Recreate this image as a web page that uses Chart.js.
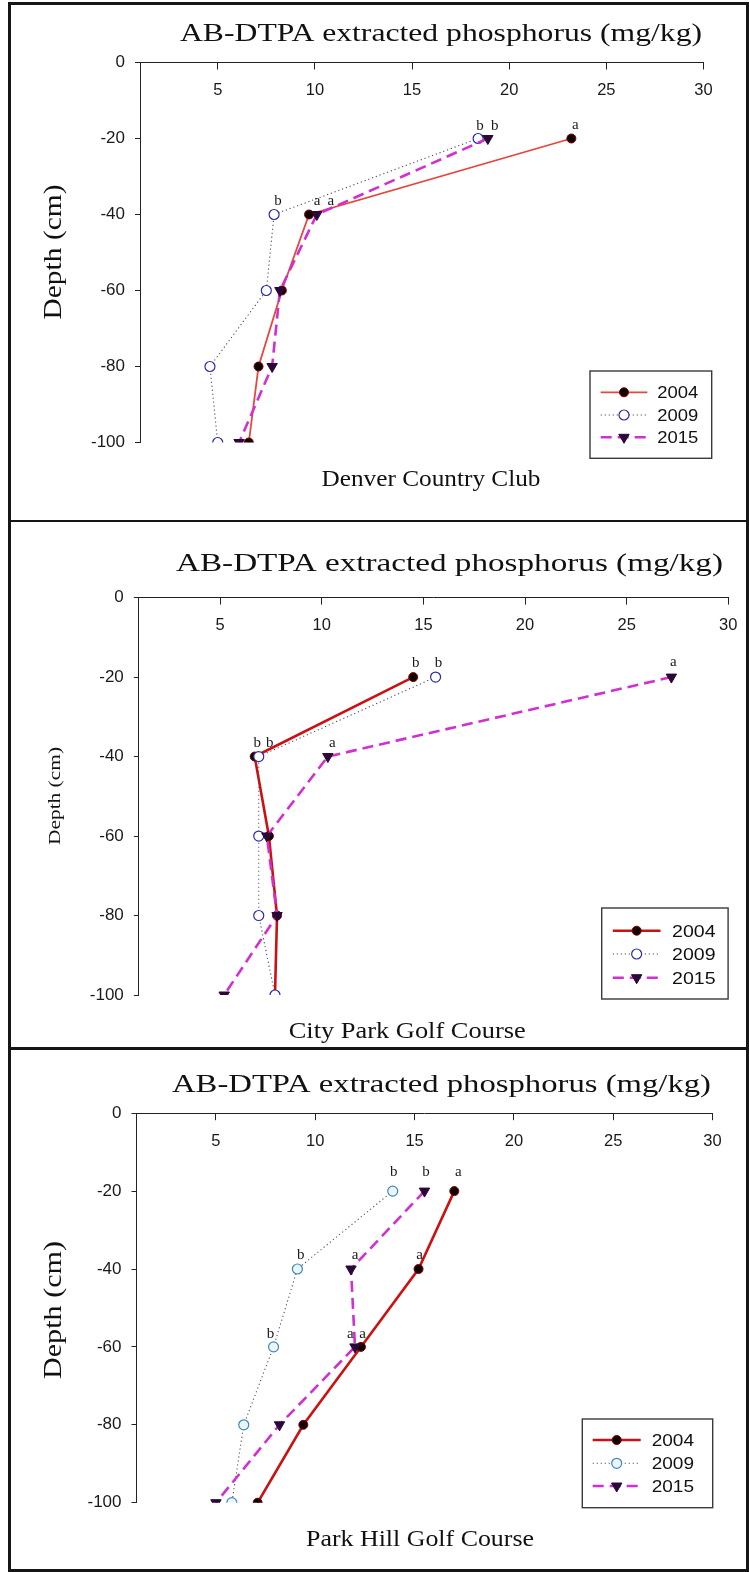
<!DOCTYPE html>
<html>
<head>
<meta charset="utf-8">
<script src="https://cdn.jsdelivr.net/npm/chart.js@4.4.1/dist/chart.umd.min.js"></script>
<style>
  html, body { margin: 0; padding: 0; background: #fff; }
  #page { position: relative; width: 749px; height: 1572px; overflow: hidden; background: #fff; }
  #page canvas { position: absolute; left: 0; }
  .rule { position: absolute; background: #161616; }
</style>
</head>
<body>
<div id="page">
  <canvas id="c1" width="749" height="520" style="top:0px"></canvas>
  <canvas id="c2" width="749" height="528" style="top:520px"></canvas>
  <canvas id="c3" width="749" height="524" style="top:1048px"></canvas>
  <div class="rule" style="left:8px;top:2px;width:2.5px;height:1568px"></div>
  <div class="rule" style="left:746px;top:2px;width:2.5px;height:1568px"></div>
  <div class="rule" style="left:8px;top:2px;width:741px;height:2.5px"></div>
  <div class="rule" style="left:8px;top:519.5px;width:741px;height:2.5px"></div>
  <div class="rule" style="left:8px;top:1047px;width:741px;height:2.5px"></div>
  <div class="rule" style="left:8px;top:1569px;width:741px;height:2.5px"></div>
</div>
<script>
// ---- data -------------------------------------------------------------
const depths = [-20, -40, -60, -80, -100];
const years = ['2004', '2009', '2015'];
const xTicks = [5, 10, 15, 20, 25, 30];
const yTicks = [0, -20, -40, -60, -80, -100];
const titleText = 'AB-DTPA extracted phosphorus (mg/kg)';
const yTitleText = 'Depth (cm)';
const siteNames = ['Denver Country Club', 'City Park Golf Course', 'Park Hill Golf Course'];

// Denver Country Club (mg/kg)
const dcc2004 = [23.2, 9.7, 8.3, 7.1, 6.6];
const dcc2009 = [18.4, 7.9, 7.5, 4.6, 5.0];
const dcc2015 = [18.9, 10.1, 8.2, 7.8, 6.1];
const dccSig2004 = ['a', 'a', '', '', ''];
const dccSig2009 = ['b', 'b', '', '', ''];
const dccSig2015 = ['b', 'a', '', '', ''];

// City Park Golf Course (mg/kg)
const cp2004 = [14.5, 6.7, 7.4, 7.8, 7.7];
const cp2009 = [15.6, 6.9, 6.9, 6.9, 7.7];
const cp2015 = [27.2, 10.3, 7.3, 7.8, 5.2];
const cpSig2004 = ['b', 'b', '', '', ''];
const cpSig2009 = ['b', 'b', '', '', ''];
const cpSig2015 = ['a', 'a', '', '', ''];

// Park Hill Golf Course (mg/kg)
const ph2004 = [17.0, 15.2, 12.3, 9.4, 7.1];
const ph2009 = [13.9, 9.1, 7.9, 6.4, 5.8];
const ph2015 = [15.5, 11.8, 12.0, 8.2, 5.0];
const phSig2004 = ['a', 'a', 'a', '', ''];
const phSig2009 = ['b', 'b', 'b', '', ''];
const phSig2015 = ['b', 'a', 'a', '', ''];

// ---- layout and styling (page coordinates) ------------------------------
const panelLayout = {
  c1: {
    top: 0, site: 0,
    area: { l: 140, t: 62.5, r: 703.5, b: 442.5 },
    title: { cx: 441, y: 40.7, w: 522, size: 26 },
    siteText: { cx: 431, y: 486, w: 219, size: 24 },
    yTitle: { x: 61, cy: 252, len: 135, size: 25 },
    legend: { x0: 590, x1: 711.7, y0: 371, y1: 458.3, rows: [392.3, 415, 437.3], l0: 600.7, l1: 647.3, tx: 657.3, tw: 41 },
    red: '#e6473d', redW: 1.8, ring: '#2b2ba6', ringFill: '#ffffff', dot: '#4a4a6e',
    shifts: [[[4, -10], [8, -10]], [[2, -9], [4, -10]], [[7, -9], [14, -10]]]
  },
  c2: {
    top: 520, site: 1,
    area: { l: 138.8, t: 597.6, r: 728.3, b: 995 },
    title: { cx: 449.5, y: 570.7, w: 547, size: 26 },
    siteText: { cx: 407.2, y: 1037.5, w: 237, size: 24 },
    yTitle: { x: 60, cy: 796, len: 98, size: 16 },
    legend: { x0: 601.7, x1: 728.1, y0: 908, y1: 999, rows: [930.7, 954, 977.7], l0: 612.8, l1: 660.5, tx: 672, tw: 43.5 },
    red: '#cc1111', redW: 2.6, ring: '#2b2ba6', ringFill: '#ffffff', dot: '#4a4a6e',
    shifts: [[[2.5, -10], [2.5, -10]], [[3, -10], [11, -10]], [[2, -11], [4.5, -10]]]
  },
  c3: {
    top: 1048, site: 2,
    area: { l: 136.5, t: 1113.2, r: 712.5, b: 1502.7 },
    title: { cx: 441.5, y: 1092.4, w: 539, size: 26 },
    siteText: { cx: 420, y: 1546, w: 228, size: 24 },
    yTitle: { x: 61, cy: 1310, len: 138, size: 25 },
    legend: { x0: 582.3, x1: 712.7, y0: 1419, y1: 1507.7, rows: [1440, 1463.3, 1486], l0: 592.7, l1: 640.7, tx: 651.7, tw: 42.3 },
    red: '#cc1111', redW: 2.6, ring: '#3f88b8', ringFill: '#eaf6fb', dot: '#555555',
    shifts: [[[4, -15], [1, -10], [1.7, -9]], [[1, -15], [3.4, -10], [-3, -9]], [[1.5, -15], [4, -10], [-4.6, -9]]]
  }
};

const SERIF = '"Liberation Serif", "Times New Roman", Times, serif';
const SANS = '"Liberation Sans", Arial, Helvetica, sans-serif';

// text drawn at a given font height, stretched along its baseline to a given length
function fitText(ctx, text, x, y, width, size, family, rot, align) {
  ctx.save();
  ctx.font = size + 'px ' + family;
  const w = ctx.measureText(text).width;
  ctx.translate(x, y);
  if (rot) ctx.rotate(rot);
  ctx.scale(width / w, 1);
  ctx.textAlign = align || 'center';
  ctx.textBaseline = 'alphabetic';
  ctx.fillStyle = '#111';
  ctx.fillText(text, 0, 0);
  ctx.restore();
}

function drawMarker(ctx, ds, x, y) {
  ctx.save();
  ctx.fillStyle = ds.pointBackgroundColor;
  ctx.strokeStyle = ds.pointBorderColor;
  ctx.lineWidth = ds.pointBorderWidth;
  ctx.setLineDash([]);
  ctx.beginPath();
  const r = ds.pointRadius;
  if (ds.pointStyle === 'triangle') {
    ctx.moveTo(x, y + r);
    ctx.lineTo(x - r * Math.sin(Math.PI / 3), y - r / 2);
    ctx.lineTo(x + r * Math.sin(Math.PI / 3), y - r / 2);
    ctx.closePath();
  } else {
    ctx.arc(x, y, r, 0, Math.PI * 2);
  }
  ctx.fill();
  ctx.stroke();
  ctx.restore();
}

const decorPlugin = {
  id: 'decor',
  afterDatasetsDraw(chart) {
    const P = panelLayout[chart.canvas.id];
    const ctx = chart.ctx;
    const top = P.top;

    // significance letters above the points
    ctx.save();
    ctx.fillStyle = '#1a1a1a';
    ctx.font = '15px ' + SERIF;
    ctx.textAlign = 'center';
    ctx.textBaseline = 'alphabetic';
    chart.data.datasets.forEach((ds, i) => {
      const meta = chart.getDatasetMeta(i);
      ds.letters.forEach((t, j) => {
        if (!t) return;
        const el = meta.data[j];
        const sh = (P.shifts[i] && P.shifts[i][j]) || [3, -10];
        ctx.fillText(t, el.x + sh[0], el.y + sh[1]);
      });
    });
    ctx.restore();

    // legend box
    const L = P.legend;
    ctx.save();
    ctx.fillStyle = '#fff';
    ctx.fillRect(L.x0, L.y0 - top, L.x1 - L.x0, L.y1 - L.y0);
    ctx.strokeStyle = '#3a3a3a';
    ctx.lineWidth = 1.4;
    ctx.strokeRect(L.x0, L.y0 - top, L.x1 - L.x0, L.y1 - L.y0);
    chart.data.datasets.forEach((ds, i) => {
      const y = L.rows[i] - top;
      ctx.save();
      ctx.strokeStyle = ds.borderColor;
      ctx.lineWidth = ds.borderWidth;
      ctx.setLineDash(ds.borderDash || []);
      ctx.beginPath();
      ctx.moveTo(L.l0, y);
      ctx.lineTo(L.l1, y);
      ctx.stroke();
      ctx.restore();
      drawMarker(ctx, ds, (L.l0 + L.l1) / 2, y);
      fitText(ctx, ds.label, L.tx, y + 5.8, L.tw, 16, SANS, 0, 'left');
    });
    ctx.restore();
  },
  afterDraw(chart) {
    const P = panelLayout[chart.canvas.id];
    const ctx = chart.ctx;
    const top = P.top;
    fitText(ctx, titleText, P.title.cx, P.title.y - top, P.title.w, P.title.size, SERIF);
    fitText(ctx, siteNames[P.site], P.siteText.cx, P.siteText.y - top, P.siteText.w, P.siteText.size, SERIF);
    fitText(ctx, yTitleText, P.yTitle.x, P.yTitle.cy - top, P.yTitle.len, P.yTitle.size, SERIF, -Math.PI / 2);
  }
};

function series(label, values, letters, style) {
  return Object.assign({
    label: label,
    letters: letters,
    data: values.map((v, i) => ({ x: v, y: depths[i] })),
    showLine: true,
    fill: false,
    tension: 0
  }, style);
}

function makePanel(id, values, letters) {
  const P = panelLayout[id];
  const canvas = document.getElementById(id);
  const W = canvas.width, H = canvas.height;
  const a = P.area;
  const axisBand = 20;
  const s2004 = {
    borderColor: P.red, borderWidth: P.redW,
    pointStyle: 'circle', pointRadius: 4.5, pointHoverRadius: 4.5,
    pointBackgroundColor: '#120000', pointBorderColor: '#7a0000', pointBorderWidth: 1, order: 2
  };
  const s2009 = {
    borderColor: P.dot, borderWidth: 1.1, borderDash: [1.2, 2.8],
    pointStyle: 'circle', pointRadius: 5, pointHoverRadius: 5,
    pointBackgroundColor: P.ringFill, pointBorderColor: P.ring, pointBorderWidth: 1.2, order: 1
  };
  const s2015 = {
    borderColor: '#d22fd2', borderWidth: 2.6, borderDash: [11, 6],
    pointStyle: 'triangle', pointRotation: 180, pointRadius: 6, pointHoverRadius: 6,
    pointBackgroundColor: '#2a0838', pointBorderColor: '#2a0838', pointBorderWidth: 1, order: 0
  };
  return new Chart(canvas, {
    type: 'scatter',
    data: {
      datasets: [
        series(years[0], values[0], letters[0], s2004),
        series(years[1], values[1], letters[1], s2009),
        series(years[2], values[2], letters[2], s2015)
      ]
    },
    options: {
      responsive: false,
      animation: false,
      devicePixelRatio: 1,
      events: [],
      layout: { padding: { left: 0, top: (a.t - P.top) - axisBand, right: W - a.r, bottom: H - (a.b - P.top) } },
      scales: {
        x: {
          type: 'linear', position: 'top', min: 1, max: 30,
          afterBuildTicks: s => { s.ticks = xTicks.map(v => ({ value: v })); },
          afterFit: s => { s.height = axisBand; s.paddingLeft = 0; s.paddingRight = 0; },
          grid: { display: true, drawOnChartArea: false, drawTicks: true, tickLength: -7, tickColor: '#222', tickWidth: 1 },
          border: { display: true, color: '#222', width: 1 },
          ticks: {
            // labels sit just below the top axis line, inside the plot
            autoSkip: false, maxRotation: 0, minRotation: 0, mirror: true, padding: 18,
            color: '#1a1a1a', font: { family: SANS, size: 16.5 },
            callback: v => String(v)
          }
        },
        y: {
          type: 'linear', position: 'left', min: -100, max: 0,
          afterBuildTicks: s => { s.ticks = yTicks.map(v => ({ value: v })); },
          afterFit: s => { s.width = a.l; },
          grid: { display: true, drawOnChartArea: false, drawTicks: true, tickLength: 5, tickColor: '#222', tickWidth: 1 },
          border: { display: true, color: '#222', width: 1 },
          ticks: {
            autoSkip: false, padding: 10,
            color: '#1a1a1a', font: { family: SANS, size: 17 },
            callback: v => String(v)
          }
        }
      },
      plugins: { legend: { display: false }, tooltip: { enabled: false } }
    },
    plugins: [decorPlugin]
  });
}

makePanel('c1', [dcc2004, dcc2009, dcc2015], [dccSig2004, dccSig2009, dccSig2015]);
makePanel('c2', [cp2004, cp2009, cp2015], [cpSig2004, cpSig2009, cpSig2015]);
makePanel('c3', [ph2004, ph2009, ph2015], [phSig2004, phSig2009, phSig2015]);
</script>
</body>
</html>
